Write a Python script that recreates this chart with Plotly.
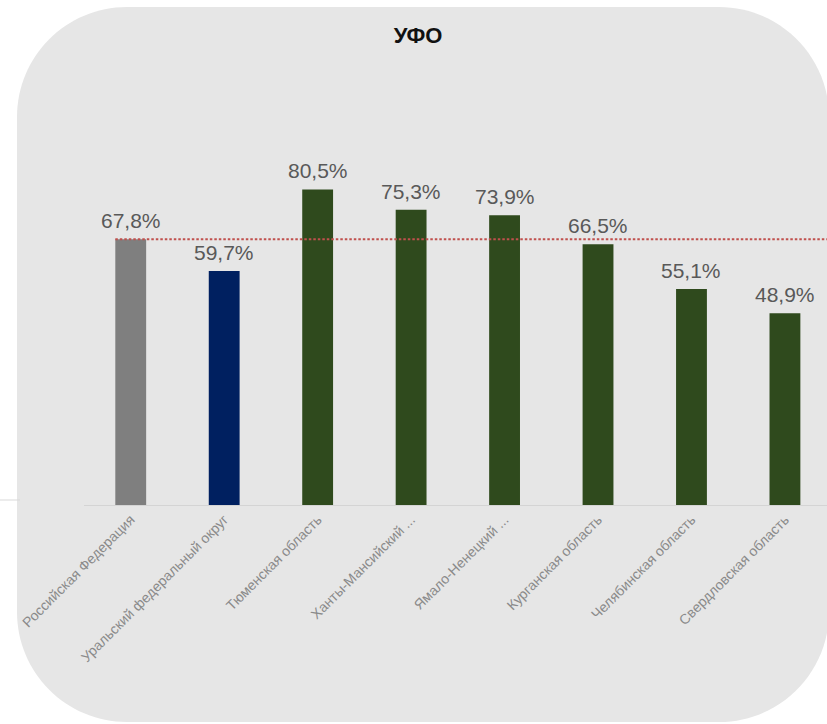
import plotly.graph_objects as go

# ---- data ----
categories = [
    "Российская Федерация",
    "Уральский федеральный округ",
    "Тюменская область",
    "Ханты-Мансийский ...",
    "Ямало-Ненецкий ...",
    "Курганская область",
    "Челябинская область",
    "Свердловская область",
]
values = [67.8, 59.7, 80.5, 75.3, 73.9, 66.5, 55.1, 48.9]
value_labels = ["67,8%", "59,7%", "80,5%", "75,3%", "73,9%", "66,5%", "55,1%", "48,9%"]
reference_value = 67.8
title_text = "УФО"

# ---- styles ----
bar_colors = ["#7f7f7f", "#002060"] + ["#2f4a1d"] * 6
W, H = 827, 724
FONT = "Liberation Sans"


def px(x, y):
    return x / W, 1 - y / H


fig = go.Figure()
fig.add_trace(go.Bar(
    x=categories, y=values, marker_color=bar_colors, width=0.33,
    marker_line_width=0, hoverinfo="skip",
))

for c, v, t in zip(categories, values, value_labels):
    fig.add_annotation(x=c, y=v, text=t, showarrow=False, yanchor="bottom",
                       yshift=5, font=dict(family=FONT, size=21, color="#595959"))

# rounded background panel
L, R, T, B, r = 17, 829, 7, 722, 110
k = 0.5523 * r
pts = [
    ("M", [(L, T + r)]),
    ("C", [(L, T + r - k), (L + r - k, T), (L + r, T)]),
    ("L", [(R - r, T)]),
    ("C", [(R - r + k, T), (R, T + r - k), (R, T + r)]),
    ("L", [(R, B - r)]),
    ("C", [(R, B - r + k), (R - r + k, B), (R - r, B)]),
    ("L", [(L + r, B)]),
    ("C", [(L + r - k, B), (L, B - r + k), (L, B - r)]),
]
path = ""
for cmd, ps in pts:
    path += cmd + " " + " ".join("%.5f,%.5f" % px(a, b) for a, b in ps) + " "
path += "Z"
fig.add_shape(type="path", path=path, xref="paper", yref="paper",
              fillcolor="#e6e6e6", line_width=0, layer="below")

# stray line on the left edge (outside panel)
x0, y0 = px(0, 500)
x1, _ = px(20, 500)
fig.add_shape(type="line", xref="paper", yref="paper", x0=x0, x1=x1, y0=y0, y1=y0,
              line=dict(color="#d9d9d9", width=1), layer="below")

# reference dotted line
fig.add_shape(type="line", xref="x", yref="y", x0=-0.165, x1=7.45,
              y0=reference_value, y1=reference_value,
              line=dict(color="#c0504d", width=2, dash="2.5px,2px"))

fig.update_layout(
    width=W, height=H,
    margin=dict(l=0, r=0, t=0, b=0, pad=0),
    paper_bgcolor="white", plot_bgcolor="rgba(0,0,0,0)",
    showlegend=False,
    title=dict(text="<b>" + title_text + "</b>", x=418 / W, y=1 - 35 / H,
               xanchor="center", yanchor="middle",
               font=dict(family=FONT, size=22, color="#111111")),
    xaxis=dict(domain=[84 / W, 1], range=[-0.5, 7.45], showgrid=False,
               showline=True, linecolor="#d4d4d4", linewidth=1,
               tickangle=-45, ticks="", zeroline=False, automargin=False,
               tickfont=dict(family=FONT, size=14, color="#8a8a8a")),
    yaxis=dict(domain=[1 - 505 / H, 1 - 113 / H], range=[0, 100],
               visible=False, automargin=False),
)

fig.write_html("out.html", config={"displayModeBar": False},
               post_script="document.body.style.margin='0';")
